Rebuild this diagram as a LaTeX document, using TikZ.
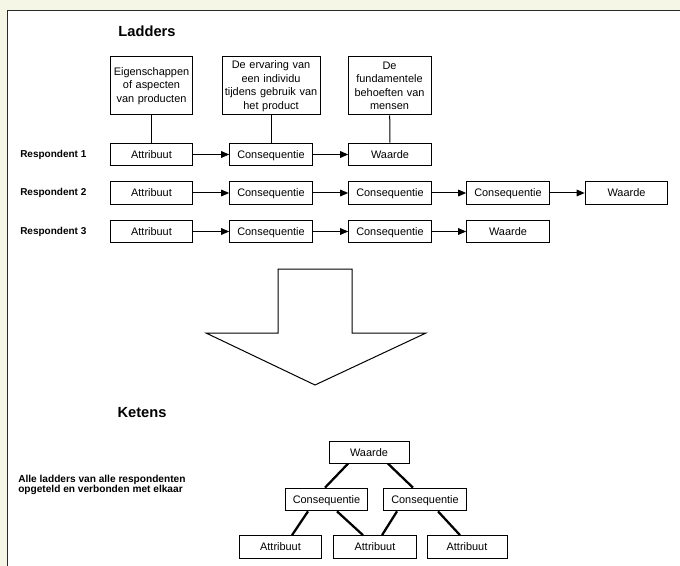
\documentclass[tikz,border=0pt]{standalone}
\usepackage{fontspec}
\setmainfont{Liberation Sans}
\usetikzlibrary{arrows.meta,calc}
\definecolor{cream}{HTML}{F6F6E6}
\definecolor{framec}{HTML}{2A2A2A}
\begin{document}
\begin{tikzpicture}[x=0.75pt,y=-0.75pt,
 box/.style={draw,line width=0.75pt,minimum width=62pt,minimum height=17pt,inner sep=0pt,text height=6.3pt,text depth=0.8pt,font=\fontsize{8.2}{10}\selectfont},
 desc/.style={draw,line width=0.75pt,minimum height=43.5pt,inner sep=0pt,align=center,font=\fontsize{8.2}{10.1}\selectfont},
 flow/.style={line width=0.75pt,-{Triangle[length=6pt,width=5pt]}},
 tie/.style={line width=0.75pt},
 tree/.style={line width=1.7pt},
 resp/.style={anchor=west,font=\bfseries\fontsize{7.5}{8}\selectfont,inner sep=0pt},
 title/.style={font=\bfseries\fontsize{11}{12}\selectfont,inner sep=0pt}]

\useasboundingbox (0,0) rectangle (680,566);
\fill[cream] (0,0) rectangle (680,566);
\begin{scope}
\clip (0,0) rectangle (680,566);
\draw[framec,fill=white,line width=1.3pt] (7.5,10.5) rectangle (700,600);
\end{scope}

% titles
\node[title] (tl) at (147,31) {Ladders};
\node[title] (tk) at (142,413) {Ketens};

% description boxes
\node[desc,text width=61.5pt] (d1) at (151.5,86) {Eigenschappen\\of aspecten\\van producten};
\node[desc,text width=73.5pt] (d2) at (271,86) {De ervaring van\\een individu\\tijdens gebruik van\\het product};
\node[desc,text width=62.25pt] (d3) at (389.5,86) {De\\fundamentele\\behoeften van\\mensen};

% respondent labels
\node[resp] (l1) at (20,155) {Respondent 1};
\node[resp] (l2) at (20,193) {Respondent 2};
\node[resp] (l3) at (20,231.5) {Respondent 3};

% row 1
\node[box] (r1a) at (151.5,154.5) {Attribuut};
\node[box] (r1b) at (271,154.5) {Consequentie};
\node[box] (r1c) at (390,154.5) {Waarde};
% row 2
\node[box] (r2a) at (151.5,193) {Attribuut};
\node[box] (r2b) at (271,193) {Consequentie};
\node[box] (r2c) at (390,193) {Consequentie};
\node[box] (r2d) at (508,193) {Consequentie};
\node[box] (r2e) at (626.5,193) {Waarde};
% row 3
\node[box] (r3a) at (151.5,231.5) {Attribuut};
\node[box] (r3b) at (271,231.5) {Consequentie};
\node[box] (r3c) at (390,231.5) {Consequentie};
\node[box] (r3d) at (508,231.5) {Waarde};

% ties
\draw[tie] (d1) -- (r1a);
\draw[tie] (d2) -- (r1b);
\draw[tie] (d3) -- (r1c);

% flows
\draw[flow] (r1a) -- (r1b);
\draw[flow] (r1b) -- (r1c);
\draw[flow] (r2a) -- (r2b);
\draw[flow] (r2b) -- (r2c);
\draw[flow] (r2c) -- (r2d);
\draw[flow] (r2d) -- (r2e);
\draw[flow] (r3a) -- (r3b);
\draw[flow] (r3b) -- (r3c);
\draw[flow] (r3c) -- (r3d);

% big down arrow
\draw[line width=0.75pt,fill=white] (278,269) -- (352,269) -- (352,333) -- (426,333) -- (315,385) -- (206,333) -- (278,333) -- cycle;

% ketens text
\node[anchor=west,align=left,inner sep=0pt,font=\bfseries\fontsize{7.6}{6.6}\selectfont] (kt) at (18,485) {Alle ladders van alle respondenten\\opgeteld en verbonden met elkaar};

% tree
\node[box,minimum width=60pt,minimum height=16pt] (w) at (369,452.5) {Waarde};
\node[box] (cl) at (326.5,499.5) {Consequentie};
\node[box] (cr) at (425,499.5) {Consequentie};
\node[box] (a1) at (280.5,547) {Attribuut};
\node[box] (a2) at (375,547) {Attribuut};
\node[box,minimum width=60pt] (a3) at (467,547) {Attribuut};

\draw[tree] ($(w.south)+(-21,0)$) -- ($(cl.north)+(-1.5,0)$);
\draw[tree] ($(w.south)+(19,0)$) -- ($(cr.north)+(-12,0)$);
\draw[tree] ($(cl.south)+(-18.5,0)$) -- ($(a1.north)+(11.5,0)$);
\draw[tree] ($(cl.south)+(10.5,0)$) -- ($(a2.north)+(-12,0)$);
\draw[tree] ($(cr.south)+(-28,0)$) -- ($(a2.north)+(7,0)$);
\draw[tree] ($(cr.south)+(13,0)$) -- ($(a3.north)+(-7,0)$);
\end{tikzpicture}
\end{document}
